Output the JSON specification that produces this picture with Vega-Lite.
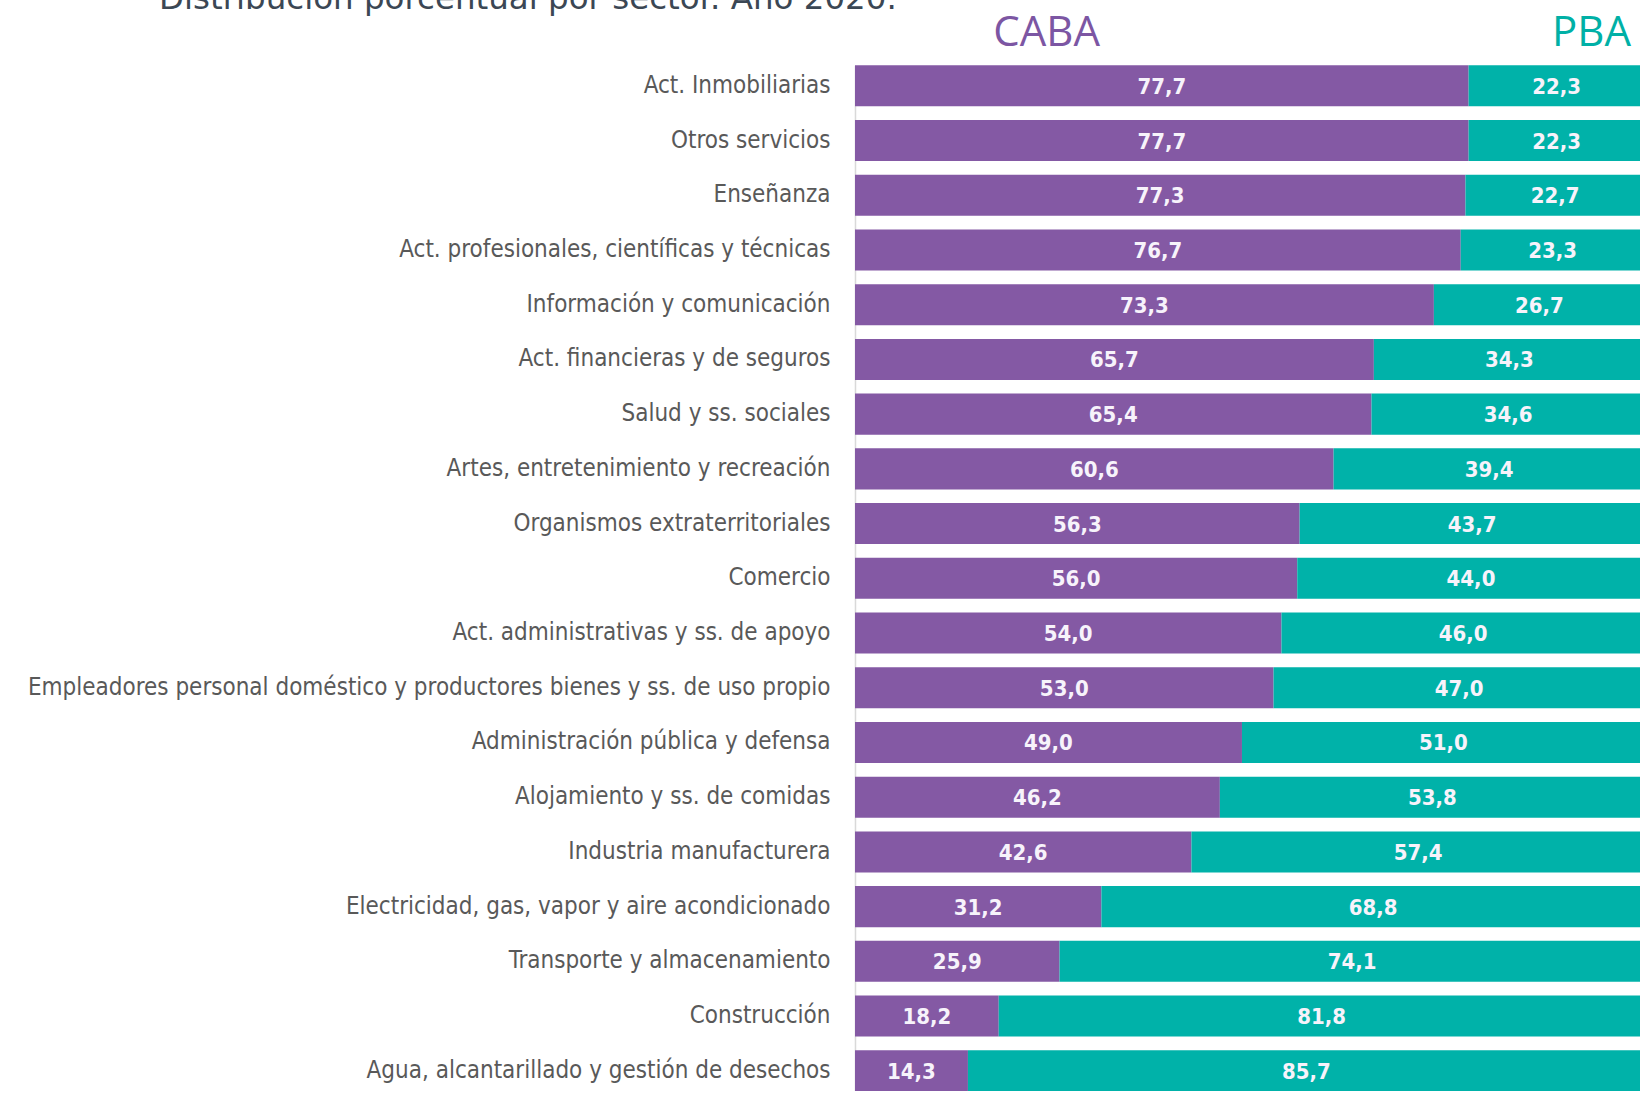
{
  "$schema": "https://vega.github.io/schema/vega-lite/v6.json",
  "autosize": "none",
  "padding": {"left": 855, "top": 65.3, "right": 0, "bottom": 0},
  "width": 785,
  "height": 1026,
  "background": "white",
  "title": {
    "text": "Distribución porcentual por sector. Año 2020.",
    "anchor": "start",
    "frame": "group",
    "dx": -696,
    "dy": 30,
    "baseline": "alphabetic",
    "offset": 0,
    "font": "DejaVu Sans",
    "fontSize": 32.5,
    "fontWeight": "normal",
    "color": "#3b4754"
  },
  "config": {
    "view": {"stroke": null},
    "locale": {"number": {"decimal": ",", "thousands": ".", "grouping": [3], "currency": ["", ""]}}
  },
  "data": {
    "values": [
      {"sector": "Act. Inmobiliarias", "region": "CABA", "value": 77.7},
      {"sector": "Act. Inmobiliarias", "region": "PBA", "value": 22.3},
      {"sector": "Otros servicios", "region": "CABA", "value": 77.7},
      {"sector": "Otros servicios", "region": "PBA", "value": 22.3},
      {"sector": "Enseñanza", "region": "CABA", "value": 77.3},
      {"sector": "Enseñanza", "region": "PBA", "value": 22.7},
      {"sector": "Act. profesionales, científicas y técnicas", "region": "CABA", "value": 76.7},
      {"sector": "Act. profesionales, científicas y técnicas", "region": "PBA", "value": 23.3},
      {"sector": "Información y comunicación", "region": "CABA", "value": 73.3},
      {"sector": "Información y comunicación", "region": "PBA", "value": 26.7},
      {"sector": "Act. financieras y de seguros", "region": "CABA", "value": 65.7},
      {"sector": "Act. financieras y de seguros", "region": "PBA", "value": 34.3},
      {"sector": "Salud y ss. sociales", "region": "CABA", "value": 65.4},
      {"sector": "Salud y ss. sociales", "region": "PBA", "value": 34.6},
      {"sector": "Artes, entretenimiento y recreación", "region": "CABA", "value": 60.6},
      {"sector": "Artes, entretenimiento y recreación", "region": "PBA", "value": 39.4},
      {"sector": "Organismos extraterritoriales", "region": "CABA", "value": 56.3},
      {"sector": "Organismos extraterritoriales", "region": "PBA", "value": 43.7},
      {"sector": "Comercio", "region": "CABA", "value": 56.0},
      {"sector": "Comercio", "region": "PBA", "value": 44.0},
      {"sector": "Act. administrativas y ss. de apoyo", "region": "CABA", "value": 54.0},
      {"sector": "Act. administrativas y ss. de apoyo", "region": "PBA", "value": 46.0},
      {"sector": "Empleadores personal doméstico y productores bienes y ss. de uso propio", "region": "CABA", "value": 53.0},
      {"sector": "Empleadores personal doméstico y productores bienes y ss. de uso propio", "region": "PBA", "value": 47.0},
      {"sector": "Administración pública y defensa", "region": "CABA", "value": 49.0},
      {"sector": "Administración pública y defensa", "region": "PBA", "value": 51.0},
      {"sector": "Alojamiento y ss. de comidas", "region": "CABA", "value": 46.2},
      {"sector": "Alojamiento y ss. de comidas", "region": "PBA", "value": 53.8},
      {"sector": "Industria manufacturera", "region": "CABA", "value": 42.6},
      {"sector": "Industria manufacturera", "region": "PBA", "value": 57.4},
      {"sector": "Electricidad, gas, vapor y aire acondicionado", "region": "CABA", "value": 31.2},
      {"sector": "Electricidad, gas, vapor y aire acondicionado", "region": "PBA", "value": 68.8},
      {"sector": "Transporte y almacenamiento", "region": "CABA", "value": 25.9},
      {"sector": "Transporte y almacenamiento", "region": "PBA", "value": 74.1},
      {"sector": "Construcción", "region": "CABA", "value": 18.2},
      {"sector": "Construcción", "region": "PBA", "value": 81.8},
      {"sector": "Agua, alcantarillado y gestión de desechos", "region": "CABA", "value": 14.3},
      {"sector": "Agua, alcantarillado y gestión de desechos", "region": "PBA", "value": 85.7}
    ]
  },
  "transform": [
    {"stack": "value", "groupby": ["sector"], "sort": [{"field": "region", "order": "ascending"}], "as": ["v0", "v1"]},
    {"calculate": "(datum.v0 + datum.v1) / 2", "as": "mid"}
  ],
  "encoding": {
    "y": {
      "field": "sector",
      "type": "nominal",
      "sort": null,
      "scale": {"paddingInner": 0.25, "paddingOuter": 0},
      "axis": {
        "title": null,
        "ticks": false,
        "domain": true,
        "domainColor": "#d9d9d9",
        "domainWidth": 1.5,
        "labelFont": "DejaVu Sans Condensed, sans-serif",
        "labelFontSize": 24,
        "labelColor": "#595959",
        "labelPadding": 25,
        "labelLimit": 1000
      }
    }
  },
  "layer": [
    {
      "mark": {"type": "bar"},
      "encoding": {
        "x": {
          "field": "v0",
          "type": "quantitative",
          "scale": {"domain": [0, 99.4], "nice": false, "zero": true},
          "axis": {
            "orient": "top",
            "values": [24.2, 93.2],
            "labelExpr": "datum.value < 50 ? 'CABA' : 'PBA'",
            "labelColor": {"condition": {"test": "datum.value < 50", "value": "#7c56a3"}, "value": "#00b0a6"},
            "labelFont": "Open Sans",
            "labelFontSize": 42,
            "labelBaseline": "alphabetic",
            "labelPadding": 20,
            "labelFlush": false,
            "labelOverlap": false,
            "labelBound": false,
            "ticks": false,
            "domain": false,
            "grid": false,
            "title": null
          }
        },
        "x2": {"field": "v1"},
        "color": {
          "field": "region",
          "type": "nominal",
          "scale": {"domain": ["CABA", "PBA"], "range": ["#8459a4", "#00b2a9"]},
          "legend": null
        }
      }
    },
    {
      "mark": {
        "type": "text",
        "font": "DejaVu Sans Condensed, sans-serif",
        "fontSize": 22,
        "fontWeight": "bold",
        "color": "#f7f3fb",
        "baseline": "middle",
        "align": "center",
        "dy": 1
      },
      "encoding": {
        "x": {"field": "mid", "type": "quantitative"},
        "text": {"field": "value", "type": "quantitative", "format": ".1f"}
      }
    }
  ]
}
